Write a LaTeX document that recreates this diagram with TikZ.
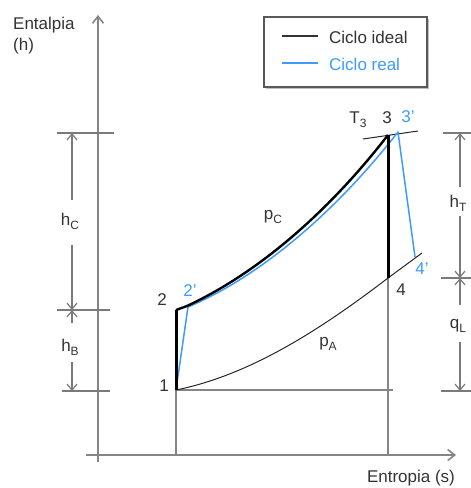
\documentclass[tikz,border=0pt]{standalone}
\usepackage{fontspec}
\setmainfont{Liberation Sans}
\usetikzlibrary{arrows.meta}
\definecolor{txt}{HTML}{333333}
\definecolor{axisgray}{HTML}{858585}
\definecolor{dimgray}{HTML}{7A7A7A}
\definecolor{realblue}{HTML}{3D9BFF}
\newcommand\sbs[1]{\raisebox{-0.45ex}{\fontsize{12}{12}\selectfont #1}}
\tikzset{
  lbl/.style={text=txt, inner sep=0pt, font=\fontsize{17}{20}\selectfont},
  bluelbl/.style={lbl, text=realblue},
  axisline/.style={draw=axisgray, line width=2.2pt, -{Straight Barb[length=7pt,width=11pt,line width=1.6pt]}},
  guide/.style={draw=axisgray, line width=1.6pt},
  tick/.style={draw=dimgray, line width=1.6pt},
  dimline/.style={draw=dimgray, line width=1.4pt, -{Straight Barb[length=6pt,width=10pt,line width=1.2pt]}},
  ideal/.style={draw=black, line width=3pt},
  idealcurve/.style={draw=black, line width=2.4pt, line join=round},
  realline/.style={draw=realblue, line width=1.5pt, line join=round},
  thincurve/.style={draw=black!85, line width=1pt},
}
\begin{document}
\begin{tikzpicture}[x=1pt,y=-1pt]
\useasboundingbox (0,0) rectangle (471,488);
% key points
\coordinate (p1) at (176,390);
\coordinate (p2) at (176,310);
\coordinate (p2i) at (187,306);
\coordinate (p2r) at (188,307);
\coordinate (p3) at (388,135);
\coordinate (p3r) at (398,132);
\coordinate (p4) at (388,278);
\coordinate (p4r) at (415,257);
\coordinate (p4x) at (422,253);
% axes
\coordinate (ybot) at (98,462);
\coordinate (ytop) at (98,15);
\coordinate (xl) at (86,455);
\coordinate (xr) at (456,455);
\draw[axisline] (ybot) -- (ytop);
\draw[axisline] (xl) -- (xr);
\node[lbl, anchor=west] (ylab) at (13,25) {Entalpia};
\node[lbl, anchor=west] (ylab2) at (13,46) {(h)};
\node[lbl] (xlab) at (411,478) {Entropia (s)};
% guide lines
\coordinate (p1b) at (176,455);
\coordinate (p4b) at (388,455);
\coordinate (hend) at (393,390);
\draw[guide] (p1) -- (p1b);
\draw[guide] (p3) -- (p4b);
\draw[guide] (p1) -- (hend);
% left ticks
\coordinate (lt1a) at (57,133); \coordinate (lt1b) at (114,133);
\coordinate (lt2a) at (57,310); \coordinate (lt2b) at (110,310);
\coordinate (lt3a) at (62,391); \coordinate (lt3b) at (110,391);
\draw[tick] (lt1a) -- (lt1b);
\draw[tick] (lt2a) -- (lt2b);
\draw[tick] (lt3a) -- (lt3b);
% right ticks
\coordinate (rt1a) at (443,133); \coordinate (rt1b) at (471,133);
\coordinate (rt2a) at (441,278); \coordinate (rt2b) at (471,278);
\coordinate (rt3a) at (441,391); \coordinate (rt3b) at (471,391);
\draw[tick] (rt1a) -- (rt1b);
\draw[tick] (rt2a) -- (rt2b);
\draw[tick] (rt3a) -- (rt3b);
% dimension lines left
\node[lbl] (hC) at (70,221) {h\sbs{C}};
\node[lbl] (hB) at (70,347) {h\sbs{B}};
\coordinate (dl1) at (72,133); \coordinate (dl1g) at (72,200);
\coordinate (dl2g) at (72,245); \coordinate (dl2) at (72,310);
\coordinate (dl3g) at (72,323); \coordinate (dl4g) at (72,362); \coordinate (dl4) at (72,391);
\draw[dimline] (dl1g) -- (dl1);
\draw[dimline] (dl2g) -- (dl2);
\draw[dimline] (dl3g) -- (dl2);
\draw[dimline] (dl4g) -- (dl4);
% dimension lines right
\node[lbl] (hT) at (458,203) {h\sbs{T}};
\node[lbl] (qL) at (458,326) {q\sbs{L}};
\coordinate (dr1) at (460,133); \coordinate (dr1g) at (460,187);
\coordinate (dr2g) at (460,216); \coordinate (dr2) at (460,278);
\coordinate (dr3g) at (460,305); \coordinate (dr4g) at (460,342); \coordinate (dr4) at (460,391);
\draw[dimline] (dr1g) -- (dr1);
\draw[dimline] (dr2g) -- (dr2);
\draw[dimline] (dr3g) -- (dr2);
\draw[dimline] (dr4g) -- (dr4);
% thin expansion isobar 1-4 and extension
\draw[thincurve] (p1) .. controls (250,375) and (320,330) .. (p4) -- (p4x);
% T3 line
\coordinate (t3a) at (363,139); \coordinate (t3b) at (418,131);
\draw[thincurve] (t3a) -- (t3b);
% real cycle
\draw[realline] (p1) -- (p2r) .. controls (263,275) and (337,210) .. (p3r) -- (p4r);
% ideal cycle
\draw[ideal] (p1) -- (p2);
\draw[idealcurve] (p2) -- (p2i) .. controls (260,272) and (330,210) .. (p3);
\draw[ideal] (p3) -- (p4);
% point labels
\node[lbl] (l1) at (164,386) {1};
\node[lbl] (l2) at (162,300) {2};
\node[bluelbl] (l2r) at (190,291) {2'};
\node[lbl] (lT3) at (358,120) {T\sbs{3}};
\node[lbl] (l3) at (387,118) {3};
\node[bluelbl] (l3r) at (408,117) {3'};
\node[lbl] (l4) at (401,290) {4};
\node[bluelbl] (l4r) at (422,269) {4'};
\node[lbl] (pC) at (273,217) {p\sbs{C}};
\node[lbl] (pA) at (328,344) {p\sbs{A}};
% legend
\coordinate (lgA) at (264,17); \coordinate (lgB) at (427,87);
\fill[black!25] (266,19) rectangle (429,89);
\draw[draw=black!65, fill=white, line width=1.2pt] (lgA) rectangle (lgB);
\coordinate (k1a) at (282,36); \coordinate (k1b) at (318,36);
\coordinate (k2a) at (282,63); \coordinate (k2b) at (318,63);
\draw[draw=black!80, line width=2pt] (k1a) -- (k1b);
\draw[draw=realblue, line width=1.5pt] (k2a) -- (k2b);
\node[lbl, anchor=west] (leg1) at (329,37) {Ciclo ideal};
\node[bluelbl, anchor=west] (leg2) at (329,64) {Ciclo real};
\end{tikzpicture}
\end{document}
